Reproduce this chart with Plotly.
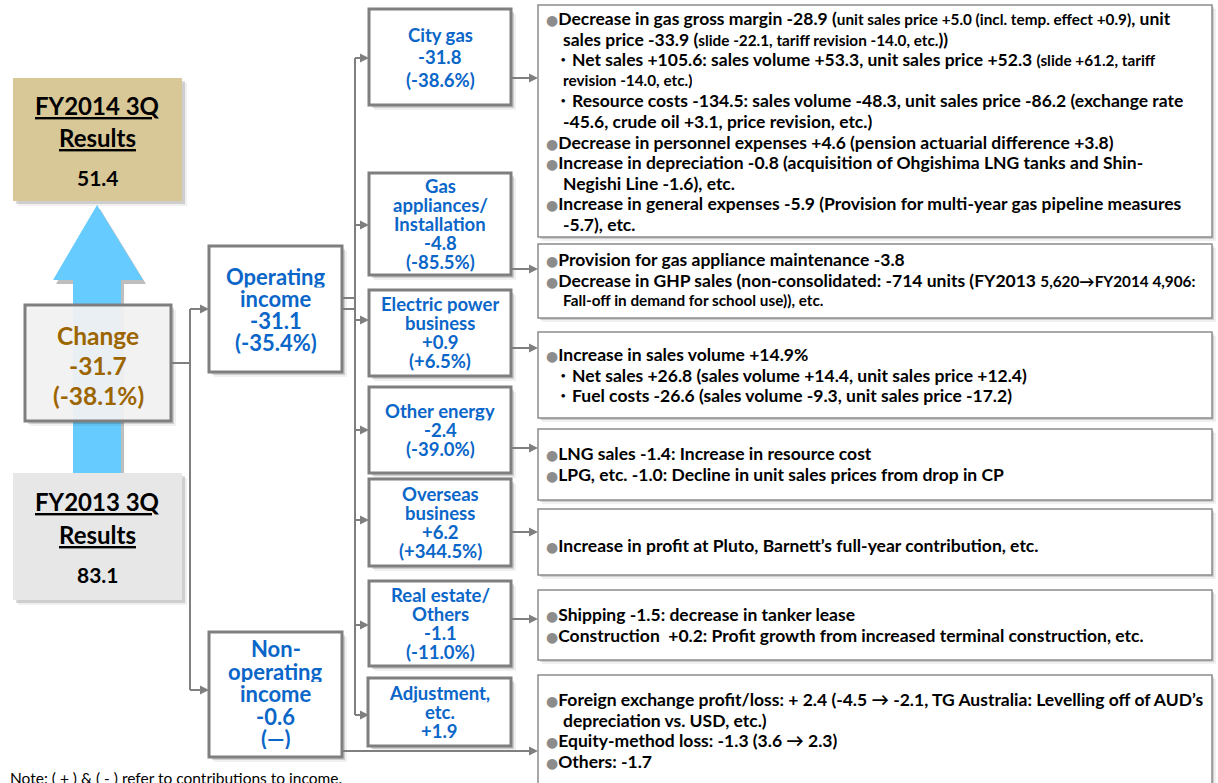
import plotly.graph_objects as go

W, H = 1218, 783

# ---- figures (billion yen) ----
fy2014_result = 51.4
fy2013_result = 83.1
total_change = -31.7
total_change_pct = -38.1
op_income_change = -31.1
op_income_pct = -35.4
nonop_change = -0.6

segment_labels = [
    ["City gas"],
    ["Gas", "appliances/", "Installation"],
    ["Electric power", "business"],
    ["Other energy"],
    ["Overseas", "business"],
    ["Real estate/", "Others"],
    ["Adjustment,", "etc."],
]
segment_change = [-31.8, -4.8, 0.9, -2.4, 6.2, -1.1, 1.9]
segment_pct = [-38.6, -85.5, 6.5, -39.0, 344.5, -11.0, None]

# {...} marks the smaller print inside a note line
detail_notes = [
    [
        "●Decrease in gas gross margin -28.9 ({unit sales price +5.0 (incl. temp. effect +0.9)}, unit",
        "sales price -33.9 ({slide -22.1, tariff revision -14.0, etc.}))",
        "・Net sales +105.6: sales volume +53.3, unit sales price +52.3 {(slide +61.2, tariff}",
        "{revision -14.0, etc.)}",
        "・Resource costs -134.5: sales volume -48.3, unit sales price -86.2 (exchange rate",
        "-45.6, crude oil +3.1, price revision, etc.)",
        "●Decrease in personnel expenses +4.6 (pension actuarial difference +3.8)",
        "●Increase in depreciation -0.8 (acquisition of Ohgishima LNG tanks and Shin-",
        "Negishi Line -1.6), etc.",
        "●Increase in general expenses -5.9 (Provision for multi-year gas pipeline measures",
        "-5.7), etc.",
    ],
    [
        "●Provision for gas appliance maintenance -3.8",
        "●Decrease in GHP sales (non-consolidated: -714 units (FY2013 {5,620→FY2014 4,906:}",
        "{Fall-off in demand for school use)), etc.}",
    ],
    [
        "●Increase in sales volume +14.9%",
        "・Net sales +26.8 (sales volume +14.4, unit sales price +12.4)",
        "・Fuel costs -26.6 (sales volume -9.3, unit sales price -17.2)",
    ],
    [
        "●LNG sales -1.4: Increase in resource cost",
        "●LPG, etc. -1.0: Decline in unit sales prices from drop in CP",
    ],
    [
        "●Increase in profit at Pluto, Barnett’s full-year contribution, etc.",
    ],
    [
        "●Shipping -1.5: decrease in tanker lease",
        "●Construction  +0.2: Profit growth from increased terminal construction, etc.",
    ],
    [
        "●Foreign exchange profit/loss: + 2.4 (-4.5 → -2.1, TG Australia: Levelling off of AUD’s",
        "depreciation vs. USD, etc.)",
        "●Equity-method loss: -1.3 (3.6 → 2.3)",
        "●Others: -1.7",
    ],
]

note_text = "Note: ( + ) & ( - ) refer to contributions to income."
unit_text = "(Unit: billion yen)"

# ---- layout geometry ----
FONT = "Lato, 'Liberation Sans', Arial, sans-serif"
BLUE = "#0A66C8"
BROWN = "#9C6500"
GREY = "#7F7F7F"

seg_boxes = [(369, 9, 511, 105), (369, 173, 511, 275), (369, 290, 511, 376),
             (369, 387, 511, 473), (369, 479, 511, 566), (369, 581, 511, 666),
             (368, 678, 511, 746)]
seg_line_gap = [22.5, 19, 19, 19, 19, 19, 19]
seg_in_y = [58, 225, 320, 430, 520, 625, 715]
seg_out_y = [78, 269, 348, 448, 532, 619]
detail_boxes = [(538, 5, 1212, 237), (538, 244, 1212, 318), (538, 332, 1212, 418),
                (538, 429, 1212, 500), (538, 509, 1212, 575), (538, 590, 1212, 660),
                (538, 675, 1212, 800)]
detail_first_y = [18, 259, 354, 453, 545, 614, 699]
detail_gap = 20.6

shapes = []
annotations = []


def rect(x0, y0, x1, y1, fill, line=None, lw=0, shadow=0):
    if shadow:
        for off, a in ((shadow + 2, 0.06), (shadow, 0.14)):
            shapes.append(dict(type="rect", xref="x", yref="y", x0=x0 + off, y0=y0 + off,
                               x1=x1 + off, y1=y1 + off, fillcolor=f"rgba(0,0,0,{a})",
                               line=dict(width=0), layer="above"))
    shapes.append(dict(type="rect", xref="x", yref="y", x0=x0, y0=y0, x1=x1, y1=y1,
                       fillcolor=fill, line=dict(color=line or fill, width=lw), layer="above"))


def seg(x0, y0, x1, y1, color=GREY, w=2):
    shapes.append(dict(type="line", xref="x", yref="y", x0=x0, y0=y0, x1=x1, y1=y1,
                       line=dict(color=color, width=w), layer="above"))


def harrow(x0, x1, y):
    seg(x0, y, x1 - 6, y)
    shapes.append(dict(type="path", xref="x", yref="y",
                       path=f"M {x1},{y} L {x1 - 9},{y - 4.5} L {x1 - 9},{y + 4.5} Z",
                       fillcolor=GREY, line=dict(width=0), layer="above"))


def label(x, y, text, size, color="black", anchor="center", bold=True, family=FONT, box_h=None):
    ann = dict(x=x, y=y, xref="x", yref="y", text=f"<b>{text}</b>" if bold else text,
               showarrow=False, xanchor=anchor, yanchor="middle",
               font=dict(family=family, size=size, color=color))
    if box_h is not None:
        ann.update(height=box_h, valign="middle", borderpad=0)
    annotations.append(ann)


def stacked(cx, cy_first, lines, gap, size, color):
    # each line gets a text box as tall as the line pitch
    for i, s in enumerate(lines):
        label(cx, cy_first + i * gap, s, size, color, box_h=gap - 0.5)


def fmt(v):
    return f"{v:+.1f}"


def fmt_pct(p):
    return f"({p:+.1f}%)"


# ---- blue arrow from FY2013 to FY2014 ----
arrow_pts = [(97, 205), (143, 280), (121, 280), (121, 474), (73, 474), (73, 280), (53, 280)]
shadow_path = "M " + " L ".join(f"{x + 3},{y + 4}" for x, y in arrow_pts) + " Z"
shapes.append(dict(type="path", xref="x", yref="y", path=shadow_path,
                   fillcolor="rgba(110,110,110,0.45)", line=dict(width=0), layer="above"))
arrow_path = "M " + " L ".join(f"{x},{y}" for x, y in arrow_pts) + " Z"
shapes.append(dict(type="path", xref="x", yref="y", path=arrow_path,
                   fillcolor="#66CCFF", line=dict(width=0), layer="above"))

# ---- result boxes ----
rect(13, 78, 182, 201, "#D9C897", shadow=3)
label(97.5, 105, "<span style='text-decoration:underline'>FY2014 3Q</span>", 24)
label(97.5, 137, "<span style='text-decoration:underline'>Results</span>", 24)
label(97.5, 177, f"{fy2014_result:.1f}", 21)

rect(13, 473, 182, 600, "#E7E7E7", shadow=3)
label(97.5, 501, "<span style='text-decoration:underline'>FY2013 3Q</span>", 24)
label(97.5, 534, "<span style='text-decoration:underline'>Results</span>", 24)
label(97.5, 574, f"{fy2013_result:.1f}", 21)

rect(25, 305, 171, 421, "rgba(244,244,244,0.93)", GREY, 3, shadow=3)
stacked(98, 336, ["Change", fmt(total_change), fmt_pct(total_change_pct)], 30, 24.5, BROWN)

# ---- connectors to operating / non-operating ----
seg(171, 363, 190, 363)
seg(190, 309, 190, 690)
harrow(190, 209, 309)
harrow(190, 209, 690)

rect(209, 246, 342, 372, "white", GREY, 3, shadow=3)
stacked(275.5, 277, ["Operating", "income", fmt(op_income_change), fmt_pct(op_income_pct)], 22, 22, BLUE)

rect(209, 632, 342, 757, "white", GREY, 3, shadow=3)
stacked(275.5, 648, ["Non-", "operating", "income", fmt(nonop_change), "(—)"], 22.5, 22, BLUE)

seg(342, 298, 355, 298)
seg(342, 309, 355, 309)
seg(355, seg_in_y[0], 355, seg_in_y[-1])
for y in seg_in_y:
    harrow(355, 369, y)

# ---- segment boxes ----
for i, (x0, y0, x1, y1) in enumerate(seg_boxes):
    rect(x0, y0, x1, y1, "white", GREY, 3, shadow=3)
    lines = list(segment_labels[i]) + [fmt(segment_change[i])]
    if segment_pct[i] is not None:
        lines.append(fmt_pct(segment_pct[i]))
    n = len(lines)
    gap = seg_line_gap[i]
    cy = (y0 + y1) / 2 - (n - 1) * gap / 2
    stacked((x0 + x1) / 2, cy, lines, gap, 18.5, BLUE)

for y in seg_out_y:
    harrow(511, 538, y)
harrow(342, 538, 751)

# ---- detail boxes ----
def rich(line):
    out = line.replace("{", "<span style='font-size:15.3px'>").replace("}", "</span>")
    out = out.replace("●", "<span style=\"color:#8C8C8C;font-family:'DejaVu Sans';"
                           "font-size:14px\">●</span>")
    return out


for i, (x0, y0, x1, y1) in enumerate(detail_boxes):
    rect(x0, y0, x1, y1, "white", "#8C8C8C", 1.5, shadow=2)
    for j, line in enumerate(detail_notes[i]):
        y = detail_first_y[i] + j * detail_gap
        if line.startswith("●"):
            x = 545
        elif line.startswith("・"):
            x = 553
        else:
            x = 562
        label(x, y, rich(line), 17.5, "black", anchor="left", box_h=detail_gap - 0.5)

label(8, 778, note_text, 15.5, "black", anchor="left", bold=False)
label(1000, -3, unit_text, 15.5, "black", anchor="center", bold=False)

fig = go.Figure()
fig.update_layout(
    width=W, height=H, margin=dict(l=0, r=0, t=0, b=0),
    paper_bgcolor="white", plot_bgcolor="white",
    xaxis=dict(range=[0, W], visible=False, fixedrange=True),
    yaxis=dict(range=[H, 0], visible=False, fixedrange=True),
    shapes=shapes, annotations=annotations, showlegend=False,
)
fig.write_html("out.html")
